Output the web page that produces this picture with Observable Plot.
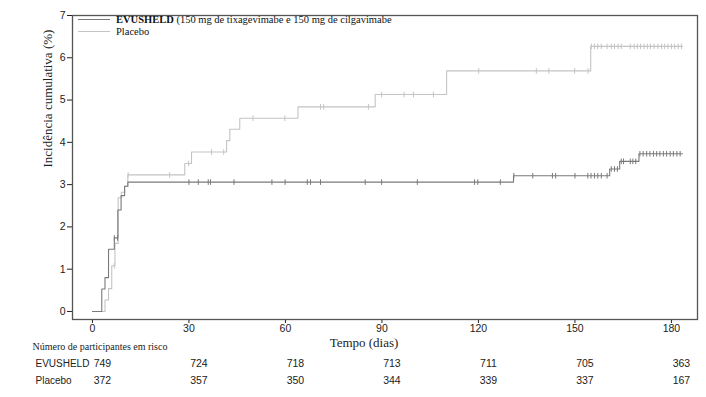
<!DOCTYPE html>
<html>
<head>
<meta charset="utf-8">
<script src="https://cdn.jsdelivr.net/npm/d3@7"></script>
<script src="https://cdn.jsdelivr.net/npm/@observablehq/plot@0.6"></script>
<style>
  html, body { margin: 0; padding: 0; background: #fff; }
  #wrap { position: relative; width: 706px; height: 397px; overflow: hidden; }
  #legend { position: absolute; left: 78px; top: 14px; font-family: "Liberation Serif", "Times New Roman", serif; font-size: 10.5px; color: #111; line-height: 11px; }
  #legend .row { display: flex; align-items: center; height: 11.5px; }
  #legend .sw { width: 32px; height: 0; margin-right: 6px; }
</style>
</head>
<body>
<div id="wrap">
  <div id="chart"></div>
  <div id="legend">
    <div class="row"><div class="sw" style="border-top:1px solid #7a7a7a"></div><span><b>EVUSHELD</b> (150 mg de tixagevimabe e 150 mg de cilgavimabe</span></div>
    <div class="row"><div class="sw" style="border-top:1px solid #c4c4c4"></div><span>Placebo</span></div>
  </div>
</div>
<script>
// Kaplan-Meier style step data (time in days, cumulative incidence in %)
const evuTimes  = [0, 2.9, 3.9, 5.0, 6.8, 7.9, 8.9, 10.0, 11.0, 130.9, 160.8, 163.9, 169.9, 183.4];
const evuValues = [0, 0.53, 0.80, 1.47, 1.74, 2.40, 2.74, 2.96, 3.06, 3.21, 3.37, 3.55, 3.73, 3.73];
const plaTimes  = [0, 3.9, 5.0, 6.0, 7.0, 8.0, 9.0, 10.0, 11.0, 28.7, 30.8, 41.7, 42.7, 45.8, 63.9, 87.9, 110.1, 154.9, 183.4];
const plaValues = [0, 0.27, 0.54, 1.08, 1.61, 2.69, 2.82, 2.96, 3.23, 3.50, 3.77, 4.04, 4.31, 4.57, 4.84, 5.13, 5.69, 6.27, 6.27];

// censoring times
const evuCensor = [6.8, 7.8, 30, 32.9, 36, 36.7, 44, 55.8, 59.9, 66.8, 67.8, 70.9, 84.8, 89.9, 101, 118.8, 119.8, 126.8, 131.0, 136.9, 143, 144, 150, 154.0, 155.0, 156.1, 157.1, 158.2, 160.0, 161.3, 162.3, 163.2, 164.4, 165.1, 167.2, 168.0, 168.9, 170.2, 171.2, 172.3, 173.3, 174.4, 175.4, 176.4, 177.5, 178.5, 179.6, 180.6, 181.7, 182.7];
const plaCensor = [6.8, 11.1, 24, 29.9, 37, 40.8, 49.9, 59.8, 70.9, 71.9, 85.8, 89.9, 96.9, 99.8, 106, 120.1, 138, 141.9, 149.9, 154.1, 155.1, 156.1, 157.1, 158.2, 160.0, 161.3, 162.3, 163.4, 164.4, 167.2, 168.4, 169.4, 170.4, 171.5, 172.5, 173.5, 174.6, 175.8, 176.9, 177.9, 178.9, 180.0, 181.0, 182.1, 183.1];

// risk table
const riskTimes = [0, 30, 60, 90, 120, 150, 180];
const riskEvu = [749, 724, 718, 713, 711, 705, 363];
const riskPla = [372, 357, 350, 344, 339, 337, 167];
const groups = ["EVUSHELD", "Placebo"];
const yTicks = [0, 1, 2, 3, 4, 5, 6, 7];
const xTicks = [0, 30, 60, 90, 120, 150, 180];

const colEvu = "#7a7a7a", colPla = "#c4c4c4";

function stepData(times, values, group) {
  return times.map((t, i) => ({t, v: values[i], group}));
}
function valueAt(times, values, t) {
  let v = values[0];
  for (let i = 0; i < times.length; i++) if (times[i] <= t) v = values[i];
  return v;
}
const evuLine = stepData(evuTimes, evuValues, groups[0]);
const plaLine = stepData(plaTimes, plaValues, groups[1]);
const evuC = evuCensor.map(t => ({t, v: valueAt(evuTimes, evuValues, t)}));
const plaC = plaCensor.map(t => ({t, v: valueAt(plaTimes, plaValues, t)}));

const vbar = { draw(ctx, size) { const r = Math.sqrt(size / Math.PI); ctx.moveTo(0, -r); ctx.lineTo(0, r); } };

const sans = "'Liberation Sans', Arial, sans-serif";
const serif = "'Liberation Serif', 'Times New Roman', serif";

const evuRisk = riskTimes.map((t, i) => ({t, n: riskEvu[i]}));
const plaRisk = riskTimes.map((t, i) => ({t, n: riskPla[i]}));

const chart = Plot.plot({
  width: 706,
  height: 397,
  marginLeft: 72,
  marginRight: 9,
  marginTop: 15,
  marginBottom: 78,
  style: { fontFamily: sans, fontSize: "10.5px", color: "#222", background: "white", overflow: "visible" },
  x: { domain: [-6.2, 188.1], ticks: xTicks, tickSize: 4, tickPadding: 1, label: null },
  y: { domain: [-0.19, 7.0], ticks: yTicks, tickSize: 5, tickPadding: 2, label: null },
  marks: [
    Plot.line(plaLine, {x: "t", y: "v", curve: "step-after", stroke: colPla, strokeWidth: 1.1}),
    Plot.line(evuLine, {x: "t", y: "v", curve: "step-after", stroke: colEvu, strokeWidth: 1.1}),
    Plot.dot(plaC, {x: "t", y: "v", symbol: vbar, r: 2.8, stroke: colPla, strokeWidth: 1}),
    Plot.dot(evuC, {x: "t", y: "v", symbol: vbar, r: 2.8, stroke: colEvu, strokeWidth: 1}),
    Plot.frame({stroke: "#555", strokeWidth: 1.3}),
    Plot.text(["Incidência cumulativa (%)"], {frameAnchor: "left", rotate: -90, dx: -25, fontFamily: serif, fontSize: 13, fill: "#222"}),
    Plot.text(["Tempo (dias)"], {frameAnchor: "bottom", dx: -21, dy: 27, fontFamily: serif, fontSize: 13, fill: "#222"}),
    Plot.text(["Número de participantes em risco"], {frameAnchor: "bottom-left", textAnchor: "start", dx: -40, dy: 30, fontFamily: serif, fontSize: 10, fill: "#222"}),
    Plot.text([groups[0]], {frameAnchor: "bottom-left", textAnchor: "start", dx: -37, dy: 47, fontFamily: sans, fontSize: 10, fill: "#222"}),
    Plot.text([groups[1]], {frameAnchor: "bottom-left", textAnchor: "start", dx: -37, dy: 64, fontFamily: sans, fontSize: 10, fill: "#222"}),
    Plot.text(evuRisk, {x: "t", text: "n", frameAnchor: "bottom", dx: 10, dy: 47, fontFamily: sans, fontSize: 10.5, fill: "#222"}),
    Plot.text(plaRisk, {x: "t", text: "n", frameAnchor: "bottom", dx: 10, dy: 64, fontFamily: sans, fontSize: 10.5, fill: "#222"})
  ]
});
document.getElementById("chart").appendChild(chart);
</script>
</body>
</html>
